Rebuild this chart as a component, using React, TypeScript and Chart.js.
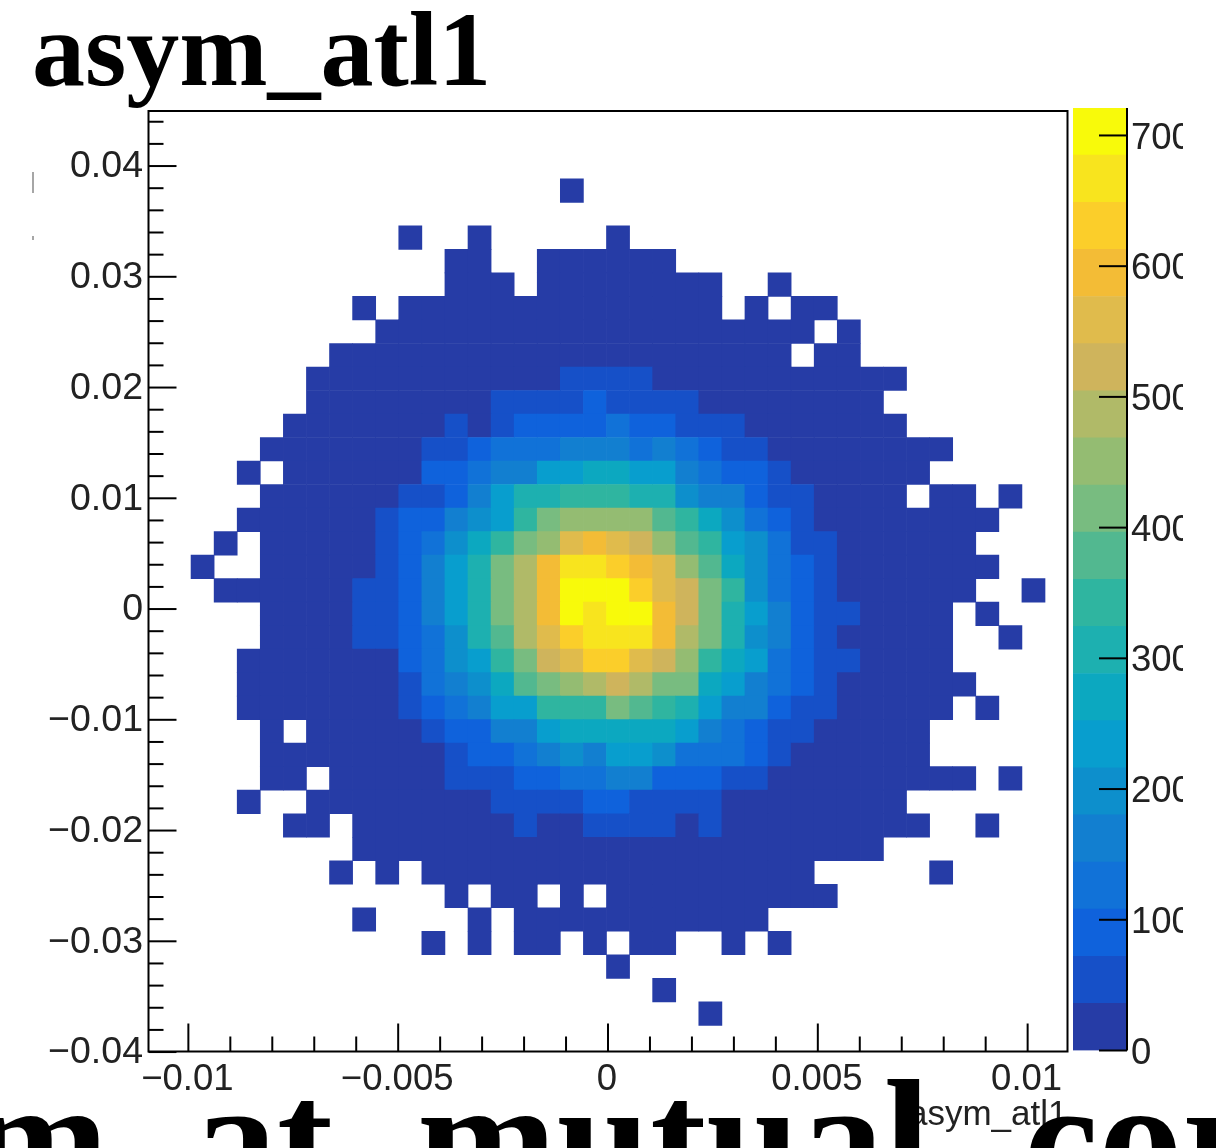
import React, { useEffect, useRef } from "react";
import { Chart, registerables } from "chart.js";

Chart.register(...registerables);

// Histogram content, one string per row from the top, columns left to right.
// "." = empty bin, otherwise the palette level of the bin in base 36 (0-9, a-j).
const binRows = [
  ".......... .......... .......... ..........",
  ".......... .......... .......... ..........",
  ".......... .......... .......... ..........",
  ".......... ........0. .......... ..........",
  ".......... .......... .......... ..........",
  ".......... .0..0..... 0......... ..........",
  ".......... ...00..000 000....... ..........",
  ".......... ...000.000 00000..0.. ..........",
  ".........0 .000000000 00000.0.00 ..........",
  ".......... 0000000000 000000000. 0.........",
  "........00 0000000000 00000000.0 0.........",
  ".......000 0000000011 1100000000 000.......",
  ".......000 0000011112 1111000000 00........",
  "......0000 0001012222 3221110000 000.......",
  ".....00000 0011233344 4343211000 00000.....",
  "....0.0000 0022344667 7664322100 0000......",
  ".....00000 0112468899 9885442110 000.00.0..",
  "....000000 1224569bcc cca9753210 0000000...",
  "...0.00000 123579bcfg feca965311 000000....",
  "..0..00000 12468bdgii hgfca75321 0000000...",
  "...0000001 12468bdgjj jhfeb95321 000000..0.",
  ".....00001 12468bdgji jjgeb86421 10000.0...",
  ".....00001 12358adfhi iigdb85421 00000..0..",
  "....000000 023569befh hfec976321 10000.....",
  "....000000 013457abcd edbb764321 000000....",
  "....000000 0123466999 ba98644211 00000.0...",
  ".....0.000 0012244677 7776432110 0000......",
  ".....00000 0001223454 6653332100 0000......",
  ".....00.00 0001112233 4422211000 000000.0..",
  "....0..000 0000011112 2111100000 000.......",
  "......00.0 0000001001 1110100000 0000..0...",
  ".........0 0000000000 0000000000 00........",
  "........0. 0.00000000 000000000. ....0.....",
  ".......... ...0.00.0. 0000000000 ..........",
  ".........0 ....0.0000 0000000... ..........",
  ".......... ..0.0.00.0 .00..0.0.. ..........",
  ".......... .......... 0......... ..........",
  ".......... .......... ..0....... ..........",
  ".......... .......... ....0..... ..........",
  ".......... .......... .......... ..........",
];

const palette = [
  "#263ca6", "#1650c8", "#0f62dc", "#1172d8", "#127fd0",
  "#0d8fcc", "#089ece", "#0ca8c0", "#1db0b0", "#2fb5a0",
  "#52b890", "#78bc80", "#94bc72", "#b0ba68", "#cfb45c",
  "#e0bb4c", "#f3bc36", "#fbce2a", "#f8e41e", "#f8fa0a",
];

const levelStep = 36.05;
const xBinStart = -0.011036;
const xBinWidth = 0.00055;
const yBinTop = 0.04521;
const yBinHeight = 0.002123;

const xMajor = [-0.01, -0.005, 0, 0.005, 0.01];
const yMajor = [-0.04, -0.03, -0.02, -0.01, 0, 0.01, 0.02, 0.03, 0.04];
const xMinor = [-0.009, -0.008, -0.007, -0.006, -0.004, -0.003, -0.002, -0.001, 0.001, 0.002, 0.003, 0.004, 0.006, 0.007, 0.008, 0.009];
const yMinor = [-0.038, -0.036, -0.034, -0.032, -0.028, -0.026, -0.024, -0.022, -0.018, -0.016, -0.014, -0.012, -0.008, -0.006, -0.004, -0.002, 0.002, 0.004, 0.006, 0.008, 0.012, 0.014, 0.016, 0.018, 0.022, 0.024, 0.026, 0.028, 0.032, 0.034, 0.036, 0.038, 0.042, 0.044];
const zMajor = [0, 100, 200, 300, 400, 500, 600, 700];

const plotTitle = "asym_atl1";
const nextPadTitleHead = "m_at_mutual";
const nextPadTitleTail = "cor";
const xAxisTitle = "asym_atl1";

const tickFont = { family: "'Liberation Sans', Arial, sans-serif", size: 36.5 };
const yTickFont = { family: "'Liberation Sans', Arial, sans-serif", size: 37.5 };
const axisTitleFont = { family: "'Liberation Sans', Arial, sans-serif", size: 35 };
const inkColor = "#000";
const labelColor = "#222";

const fmt = (v: number) => (v < 0 ? "\u2212" + String(-v) : String(v));

type Cell = { x: number; y: [number, number]; count: number };
const cells: Cell[] = [];
binRows.forEach((row, r) => {
  row.replace(/ /g, "").split("").forEach((ch, c) => {
    if (ch === ".") return;
    const lvl = parseInt(ch, 36);
    cells.push({
      x: xBinStart + xBinWidth * (c + 0.5),
      y: [yBinTop - yBinHeight * (r + 1), yBinTop - yBinHeight * r],
      count: (lvl + 0.5) * levelStep,
    });
  });
});

function line(ctx: CanvasRenderingContext2D, x1: number, y1: number, x2: number, y2: number) {
  ctx.beginPath();
  ctx.moveTo(x1, y1);
  ctx.lineTo(x2, y2);
  ctx.stroke();
}

const framePlugin = {
  id: "rootFrame",
  afterDraw(chart: any) {
    const { ctx, chartArea: a, scales } = chart;
    ctx.save();
    ctx.strokeStyle = inkColor;
    ctx.lineWidth = 2;
    ctx.strokeRect(a.left, a.top, a.right - a.left, a.bottom - a.top);
    for (const v of xMajor) { const p = scales.x.getPixelForValue(v); line(ctx, p, a.bottom, p, a.bottom - 28); }
    for (const v of xMinor) { const p = scales.x.getPixelForValue(v); line(ctx, p, a.bottom, p, a.bottom - 15); }
    for (const v of yMajor) { const p = scales.y.getPixelForValue(v); line(ctx, a.left, p, a.left + 28, p); }
    for (const v of yMinor) { const p = scales.y.getPixelForValue(v); line(ctx, a.left, p, a.left + 15, p); }
    // clipped remains of the y axis title
    ctx.strokeStyle = "#888";
    ctx.lineWidth = 1.5;
    line(ctx, 33, 172, 33, 193);
    line(ctx, 33, 236, 33, 240);
    // pad title and the next pad's title running into the picture
    ctx.fillStyle = "#000";
    ctx.textAlign = "left";
    ctx.textBaseline = "alphabetic";
    ctx.font = "bold 106px 'Liberation Serif', 'Times New Roman', serif";
    ctx.fillText(plotTitle, 32, 85);
    ctx.font = "bold 168px 'Liberation Serif', 'Times New Roman', serif";
    ctx.fillText(nextPadTitleHead, -31, 1195);
    ctx.fillText(nextPadTitleTail, 1024, 1195);
    ctx.restore();
  },
};

const barPlugin = {
  id: "zFrame",
  afterDraw(chart: any) {
    const { ctx, chartArea: a, scales } = chart;
    ctx.save();
    ctx.strokeStyle = inkColor;
    ctx.lineWidth = 2;
    line(ctx, a.right, a.top, a.right, a.bottom);
    for (const v of zMajor) { const p = scales.y.getPixelForValue(v); line(ctx, a.right, p, a.right - 28, p); }
    ctx.restore();
  },
};

export default function App() {
  const mainRef = useRef<HTMLCanvasElement>(null);
  const barRef = useRef<HTMLCanvasElement>(null);

  useEffect(() => {
    const main = new Chart(mainRef.current!, {
      type: "bar",
      data: {
        datasets: [{
          data: cells as any,
          backgroundColor: cells.map((c) => palette[Math.floor(c.count / levelStep)]),
          borderWidth: 0,
          barPercentage: 1,
          categoryPercentage: 1,
        }],
      },
      options: {
        responsive: false,
        animation: false,
        devicePixelRatio: 1,
        layout: { autoPadding: false, padding: { left: 0, top: 111, right: 148.5, bottom: 12 } },
        plugins: { legend: { display: false }, tooltip: { enabled: false } },
        scales: {
          x: {
            type: "linear",
            offset: false,
            min: -0.01095,
            max: 0.01095,
            grid: { display: false, drawTicks: false },
            border: { display: false },
            afterBuildTicks: (s: any) => { s.ticks = xMajor.map((value) => ({ value })); },
            afterFit: (s: any) => { s.height = 84.5; },
            ticks: { autoSkip: false, maxRotation: 0, minRotation: 0, padding: 7, labelOffset: -1, color: labelColor, font: tickFont, callback: (v: any) => fmt(Number(v)) },
            title: { display: true, text: xAxisTitle, align: "end", color: labelColor, font: axisTitleFont, padding: { top: 0, bottom: 0 } },
          },
          y: {
            type: "linear",
            min: -0.03995,
            max: 0.04497,
            grid: { display: false, drawTicks: false },
            border: { display: false },
            afterBuildTicks: (s: any) => { s.ticks = yMajor.map((value) => ({ value })); },
            afterFit: (s: any) => { s.width = 148.5; },
            ticks: { autoSkip: false, padding: 5.5, labelOffset: 1, color: labelColor, font: yTickFont, callback: (v: any) => fmt(Number(v)) },
          },
        },
      } as any,
      plugins: [framePlugin],
    });

    const bar = new Chart(barRef.current!, {
      type: "bar",
      data: {
        labels: ["z"],
        datasets: palette.map((color) => ({
          data: [levelStep],
          backgroundColor: color,
          borderWidth: 0,
          barPercentage: 1,
          categoryPercentage: 1,
        })),
      },
      options: {
        responsive: false,
        animation: false,
        devicePixelRatio: 1,
        layout: { autoPadding: false, padding: { left: 13, top: 108, right: 0, bottom: 97.5 } },
        plugins: { legend: { display: false }, tooltip: { enabled: false } },
        scales: {
          x: { stacked: true, display: false },
          y: {
            stacked: true,
            position: "right",
            min: 0,
            max: levelStep * palette.length,
            grid: { display: false, drawTicks: false },
            border: { display: false },
            afterBuildTicks: (s: any) => { s.ticks = zMajor.map((value) => ({ value })); },
            afterFit: (s: any) => { s.width = 56; },
            ticks: { autoSkip: false, padding: 4, labelOffset: 3, color: labelColor, font: tickFont },
          },
        },
      } as any,
      plugins: [barPlugin],
    });

    return () => {
      main.destroy();
      bar.destroy();
    };
  }, []);

  return (
    <div style={{ position: "absolute", left: 0, top: 0, width: 1216, height: 1148, overflow: "hidden", background: "#fff" }}>
      <canvas ref={mainRef} width={1216} height={1148} style={{ position: "absolute", left: 0, top: 0 }} />
      <canvas ref={barRef} width={123} height={1148} style={{ position: "absolute", left: 1060, top: 0 }} />
    </div>
  );
}
